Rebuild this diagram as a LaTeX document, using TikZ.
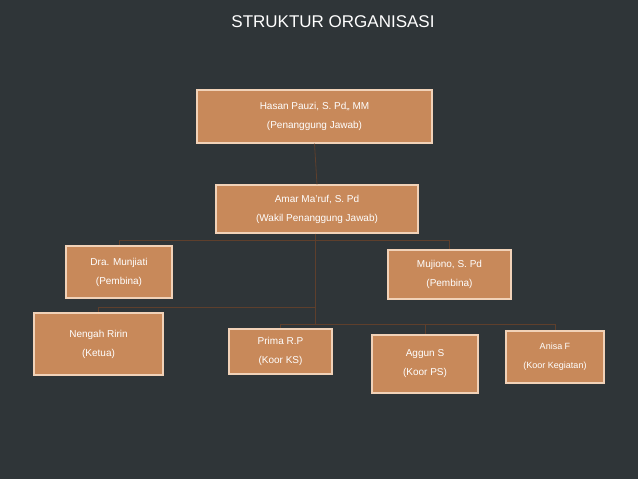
\documentclass[tikz,border=0pt]{standalone}
\usepackage{fontspec}
\setmainfont{Liberation Sans}
\usetikzlibrary{positioning}
\definecolor{slide}{HTML}{2F3538}
\definecolor{boxfill}{HTML}{C8895A}
\definecolor{boxrim}{HTML}{F1D2B8}
\definecolor{linkline}{HTML}{5E3F2C}
\tikzset{
  member/.style={draw=boxrim, line width=1.2pt, fill=boxfill, text=white,
    align=center, font=\fontsize{10}{19}\selectfont, inner sep=1pt},
  link/.style={draw=linkline, line width=0.8pt}
}
\begin{document}
\begin{tikzpicture}[x=1pt, y=-1pt]
			\fill[slide] (0,0) rectangle (638,479);
			\node[text=white, font=\fontsize{17}{20}\selectfont] (title) at (333,22) {STRUKTUR ORGANISASI};
			\begin{scope}[every node/.style={member}]
				\node[minimum width=235pt, minimum height=53pt] (hasan) at (314.5,116.5) {Hasan Pauzi, S. Pd,, MM\\(Penanggung Jawab)};
				\node[minimum width=202pt, minimum height=48pt] (amar) at (317,209) {Amar Ma'ruf, S. Pd\\(Wakil Penanggung Jawab)};
				\node[minimum width=106pt, minimum height=52pt] (dra) at (119,272) {Dra. Munjiati\\(Pembina)};
				\node[minimum width=123pt, minimum height=49pt] (mujiono) at (449.5,274.5) {Mujiono, S. Pd\\(Pembina)};
				\node[minimum width=129pt, minimum height=62pt] (nengah) at (98.5,344) {Nengah Ririn\\(Ketua)};
				\node[minimum width=103pt, minimum height=45pt] (prima) at (280.5,351.5) {Prima R.P\\(Koor KS)};
				\node[minimum width=106pt, minimum height=58pt] (aggun) at (425,364) {Aggun S\\(Koor PS)};
				\node[minimum width=98pt, minimum height=52pt, font=\fontsize{9}{19}\selectfont] (anisa) at (555,357) {Anisa F\\(Koor Kegiatan)};
			\end{scope}
			\begin{scope}[on background layer/.style={}]
				\coordinate (top) at (hasan.south);
				\coordinate (mid) at (315,240);
				\coordinate (low) at (315,307);
				\coordinate (base) at (315,324);
				\path[link] (top) -- (amar.north);
				\path[link] (amar.south -| mid) -- (base);
				\path[link] (dra.north |- mid) -- (mujiono.north |- mid);
				\path[link] (dra.north |- mid) -- (dra.north);
				\path[link] (mujiono.north |- mid) -- (mujiono.north);
				\path[link] (nengah.north |- low) -- (low);
				\path[link] (nengah.north |- low) -- (nengah.north);
				\path[link] (prima.north |- base) -- (anisa.north |- base);
				\path[link] (prima.north |- base) -- (prima.north);
				\path[link] (aggun.north |- base) -- (aggun.north);
				\path[link] (anisa.north |- base) -- (anisa.north);
			\end{scope}
		\end{tikzpicture}
\end{document}
